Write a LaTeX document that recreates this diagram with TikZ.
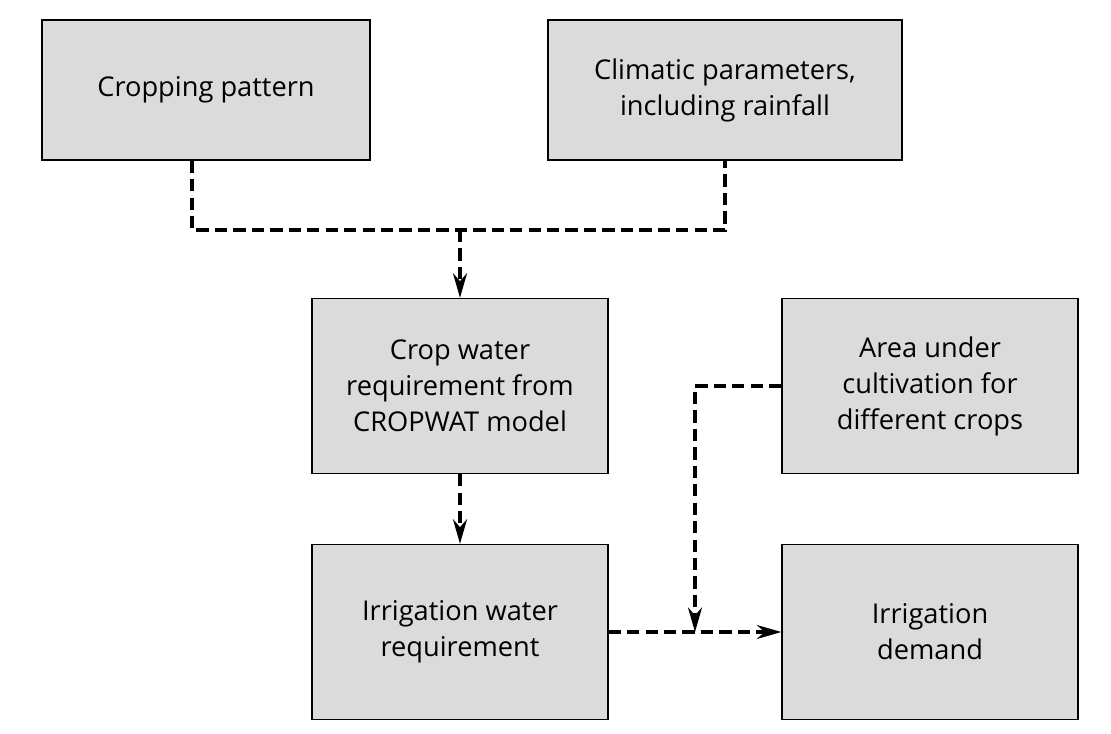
\documentclass[tikz,border=0pt]{standalone}
\usepackage{fontspec}
\setmainfont{Open Sans}
\usetikzlibrary{arrows.meta}

\begin{document}
\begin{tikzpicture}[x=0.02cm,y=-0.02cm,>={Stealth[length=14pt,width=8pt]},
  box/.style={draw,fill=black!14,line width=0.8pt,minimum width=5.92cm,minimum height=3.5cm,
    align=center,font=\fontsize{15.5}{20.5}\selectfont},
  link/.style={line width=1.8pt,dash pattern=on 7pt off 3.5pt}]

  \useasboundingbox (0,0) rectangle (1111,733);

  \node[box,minimum width=6.56cm,minimum height=2.8cm] (CP) at (206,90) {Cropping pattern};
  \node[box,minimum width=7.08cm,minimum height=2.8cm] (CL) at (725,90) {Climatic parameters,\\including rainfall};
  \node[box] (CW) at (460,386) {Crop water\\requirement from\\CROPWAT model};
  \node[box] (AU) at (930,386) {Area under\\cultivation for\\different crops};
  \node[box] (IW) at (460,632) {Irrigation water\\requirement};
  \node[box] (ID) at (930,632) {Irrigation\\demand};

  \coordinate (J1) at (460,230);
  \coordinate (J2) at (695,632);

  \draw[link] (CP.south -| 192,0) |- (J1) -| (CL.south);
  \draw[link,->] (J1) -- (CW.north);
  \draw[link,->] (CW) -- (IW);
  \draw[link,->] (AU.west) -| (J2);
  \draw[link,->] (IW) -- (ID);

\end{tikzpicture}
\end{document}
